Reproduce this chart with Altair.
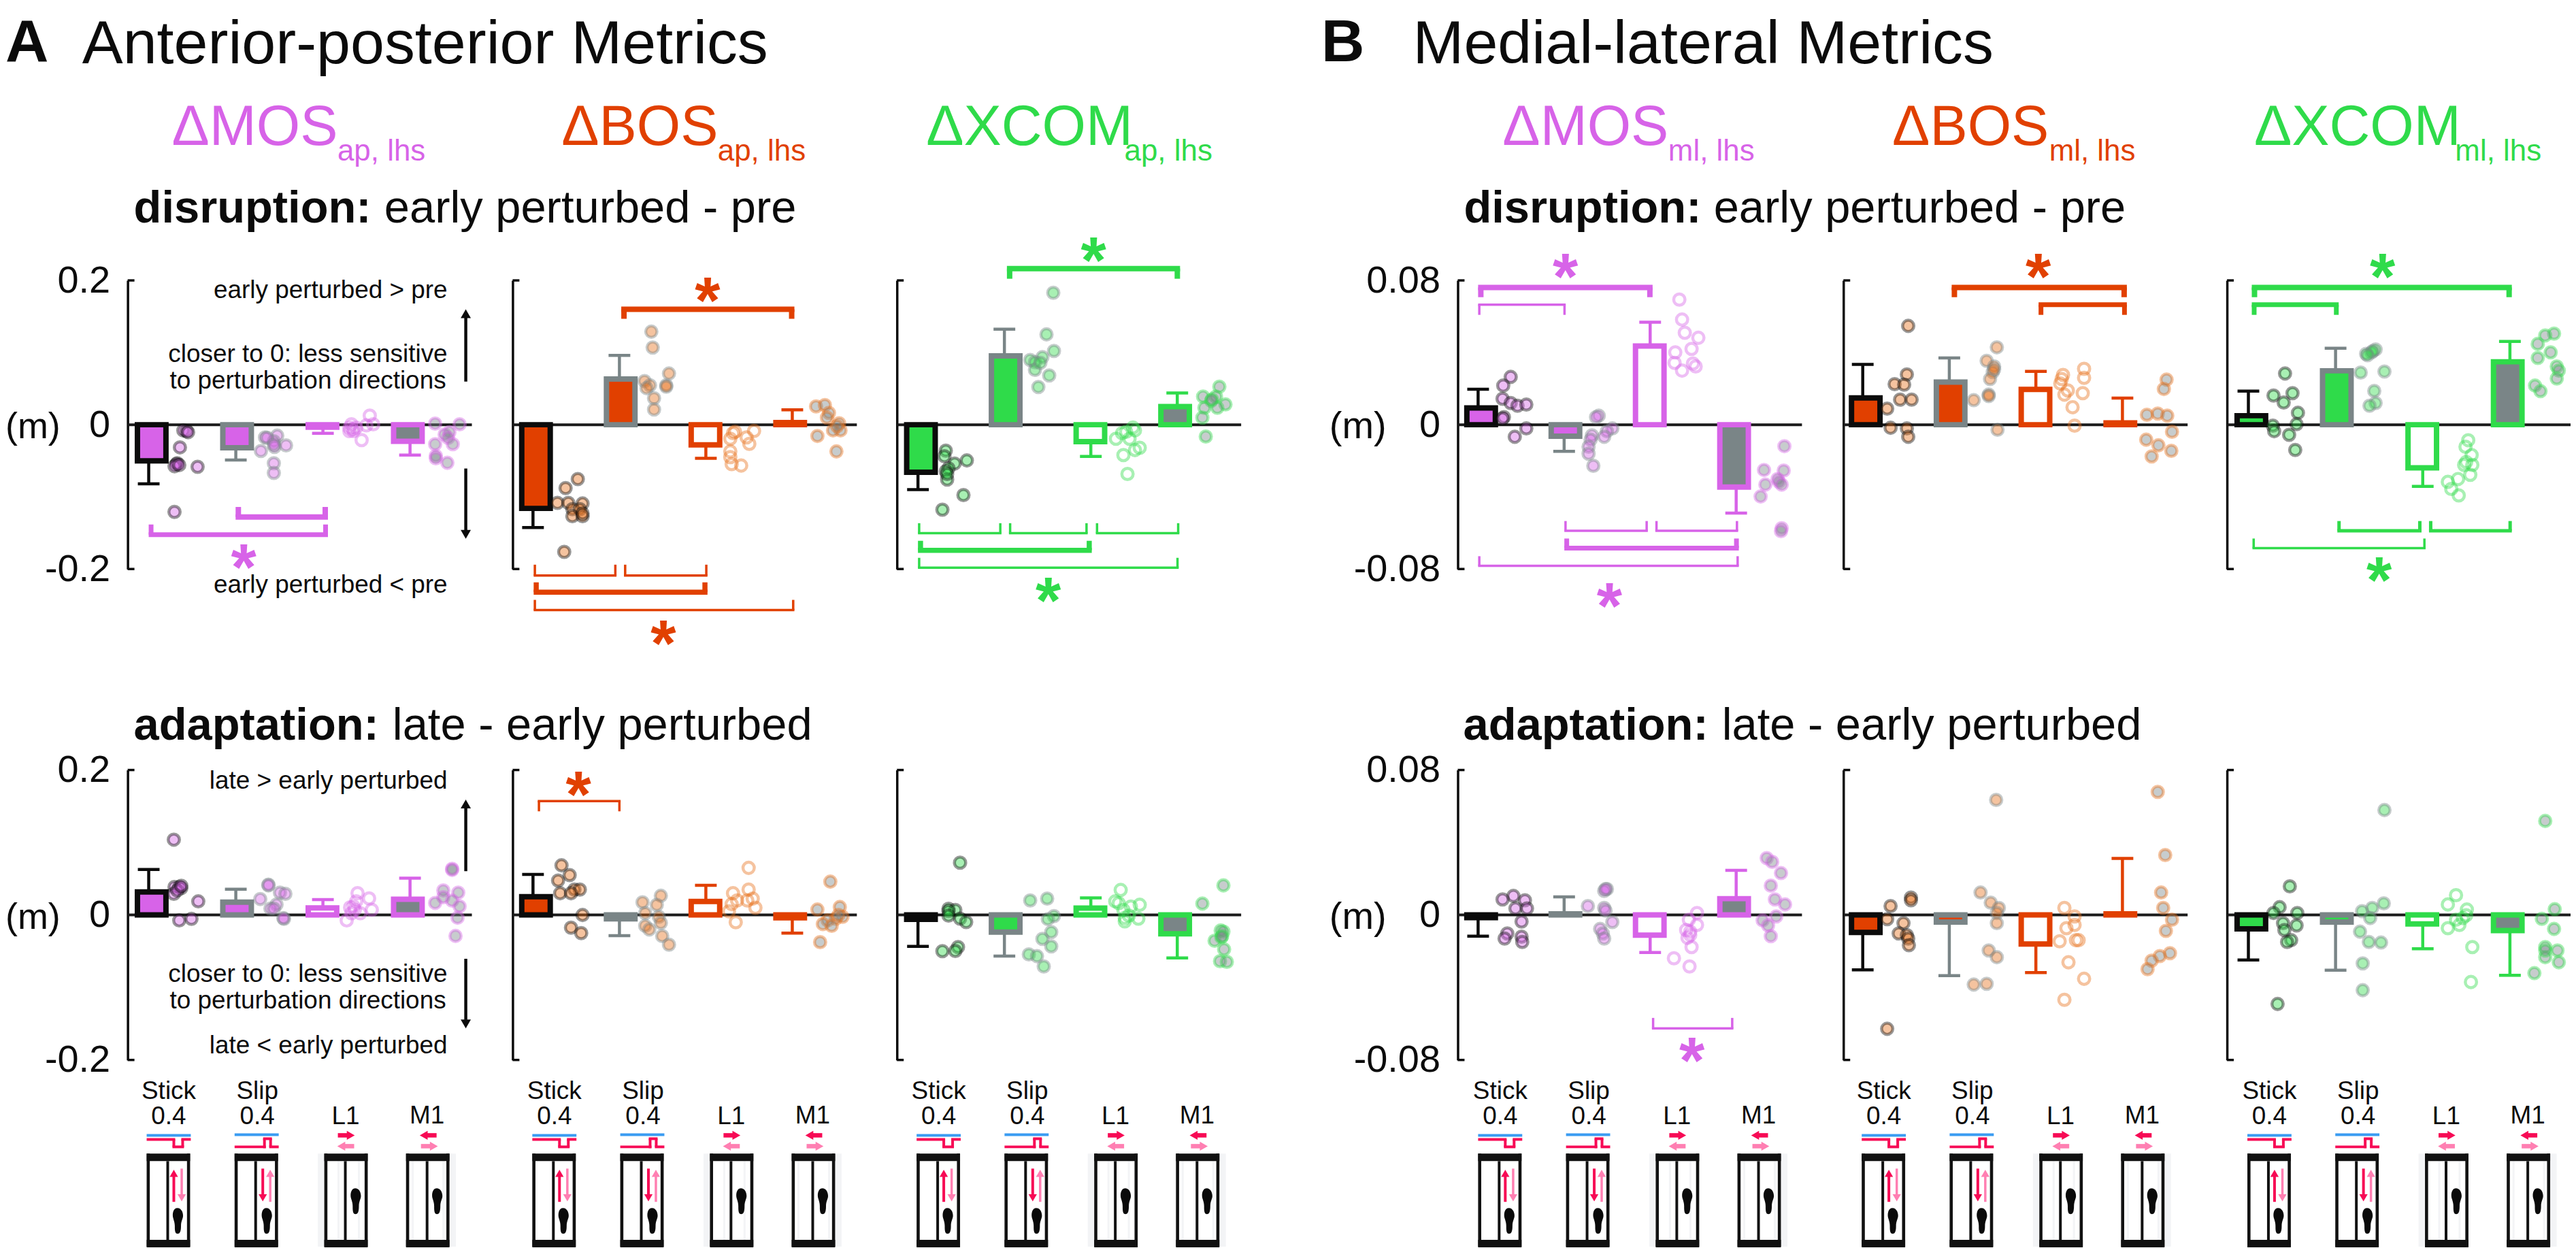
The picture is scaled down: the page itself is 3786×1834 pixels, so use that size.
import altair as alt
import pandas as pd

FONT = "Liberation Sans"
PINK, ORANGE, GREEN = "#D763E8", "#E14000", "#2FDB4A"
GRAY, BLACK = "#7A8587", "#0B0B0B"
RED, ROSE, BLUE = "#F70A55", "#FF7FB2", "#3A9CF2"
DOT_ORANGE = "#E8701A"
M = 8  # page margin: reference pixel = chart pixel + 8
W, H = 3778, 1826
GROUPS = ["Stick", "Slip", "L1", "M1"]

# each series: (horizontal jitter, measured value)
ap_dis_mos = dict(
    means=[-.050, -.032, -.0035, -.023], errs=[-.082, -.049, -.012, -.042],
    Stick=[(51,-.008),(56,-.009),(58,-.0104),(46,-.0314),(42,-.0534),(41,-.0546),(38,-.0575),(45,-.0559),(72,-.0584),(38,-.1209)],
    Slip=[(43,-.0176),(61,-.0151),(56,-.0229),(57,-.0308),(74,-.0286),(37,-.0364),(56,-.0534),(56,-.0669),(46,-.018),(56,-.0276)],
    L1=[(39,-.0041),(44,-.0057),(42,.0006),(49,-.0041),(69,.0126),(74,.0006),(64,-.0009),(57,-.0214),(39,-.0088),(45,-.0088)],
    M1=[(37,.0016),(73,.0006),(51,-.0135),(58,-.0104),(56,-.0182),(63,-.027),(37,-.027),(38,-.0433),(38,-.0465),(55,-.0528)])
ap_dis_bos = dict(
    means=[-.116, .0634, -.028, .003], errs=[-.1425, .096, -.0465, .0207],
    Stick=[(66,-.0753),(48,-.0878),(36,-.1084),(52,-.1084),(73,-.1092),(58,-.117),(69,-.117),(58,-.1268),(73,-.1268),(46,-.1763),(73,-.1229)],
    Slip=[(47,.129),(49,.107),(73,.071),(37,.0605),(45,.0546),(40,.0507),(69,.0546),(69,.0527),(51,.0367),(51,.0211)],
    L1=[(43,-.0098),(40,-.0117),(36,-.0195),(71,-.0086),(60,-.0176),(64,-.0265),(36,-.037),(36,-.0449),(38,-.0546),(52,-.0566)],
    M1=[(35,.0254),(48,.0273),(54,.0164),(51,.0098),(69,.002),(71,-.0078),(60,-.0078),(66,-.002),(37,-.0156),(65,-.037)])
ap_dis_xcom = dict(
    means=[-.066, .0954, -.0235, .0251], errs=[-.09, .1324, -.044, .044],
    Stick=[(41,-.0359),(39,-.0437),(72,-.0495),(54,-.0538),(45,-.0605),(41,-.0644),(43,-.0761),(67,-.0975),(36,-.1178),(43,-.0683)],
    Slip=[(72,.1829),(62,.1252),(73,.1022),(38,.0897),(56,.0936),(45,.0866),(45,.0761),(66,.0683),(50,.0523),(53,.0858)],
    L1=[(52,-.0098),(62,-.0039),(46,-.0117),(37,-.0195),(57,-.0195),(72,-.032),(65,-.0351),(48,-.0421),(54,-.0683),(65,-.0078)],
    M1=[(62,.0527),(38,.039),(57,.039),(50,.0332),(71,.0281),(40,.0234),(59,.0234),(37,.0098),(42,-.0164),(51,.0351)])
ap_ada_mos = dict(
    means=[.0317, .0176, .0097, .0216], errs=[.0628, .0355, .0213, .0508],
    Stick=[(37,.1039),(38,.0386),(45,.0386),(48,.0371),(37,.0292),(42,.0339),(73,.0188),(45,-.0075),(63,-.0053),(48,.0402)],
    Slip=[(48,.0418),(65,.0308),(73,.0292),(36,.022),(60,.0144),(51,.0088),(56,.0088),(71,-.0053),(70,-.0044),(48,.0408)],
    L1=[(51,.0301),(68,.0229),(72,.0072),(49,.0188),(40,.0104),(45,.0119),(55,.0025),(35,-.0075),(47,.0072),(42,.0025)],
    M1=[(62,.0637),(62,.0622),(49,.0339),(49,.0245),(71,.0308),(62,.0198),(37,.0166),(73,.0119),(70,-.0038),(67,-.0289)])
ap_ada_bos = dict(
    means=[.0253, -.0053, .0187, -.0038], errs=[.056, -.0285, .041, -.025],
    Stick=[(42,.0685),(54,.055),(37,.0475),(61,.035),(69,.035),(40,.03),(56,.03),(73,0),(56,-.0175),(71,-.025)],
    Slip=[(61,.0265),(34,.0175),(55,.014),(38,.0025),(58,-.0025),(38,-.015),(61,-.011),(44,-.02),(63,-.029),(73,-.041)],
    L1=[(63,.065),(40,.03),(63,.035),(46,.02),(69,.0225),(73,.01),(38,.015),(34,.005),(44,-.01),(61,.02)],
    M1=[(56,.046),(70,.011),(37,.0075),(74,-.0025),(64,-.005),(52,-.0075),(45,-.0125),(58,-.015),(41,-.0375),(68,0)])
ap_ada_xcom = dict(
    means=[-.006, -.0236, .0094, -.026], errs=[-.0433, -.0568, .0235, -.0593],
    Stick=[(62,.0722),(45,.0085),(55,.0069),(45,.0053),(45,-.0009),(62,-.005),(71,-.0097),(59,-.0443),(55,-.0496),(36,-.0499)],
    Slip=[(38,.0201),(63,.0226),(73,-.0016),(64,-.0057),(69,-.0236),(56,-.033),(69,-.0433),(36,-.0543),(48,-.0568),(58,-.071)],
    L1=[(44,.0345),(36,.0188),(41,.0163),(59,.0116),(72,.0141),(48,.0069),(50,-.0041),(70,-.005),(50,-.0088),(56,-.0009)],
    M1=[(68,.0408),(37,.0157),(64,-.0214),(68,-.0229),(55,-.0355),(65,-.0308),(69,-.0474),(63,-.0637),(73,-.0647),(66,-.0292)])
ml_dis_mos = dict(
    means=[.0093, -.0064, .0436, -.0346], errs=[.0197, -.0148, .0568, -.049],
    Stick=[(48,.0265),(37,.0217),(36,.0144),(48,.012),(58,.0105),(71,.0112),(38,.0042),(36,.0034),(71,-.002),(54,-.0067)],
    Slip=[(51,.005),(47,.0042),(71,-.002),(63,-.0036),(41,-.0059),(39,-.0083),(59,-.0067),(36,-.0122),(36,-.0161),(43,-.0228)],
    L1=[(43,.0694),(47,.0583),(51,.051),(71,.0482),(37,.0401),(61,.042),(36,.0343),(63,.0339),(67,.0323),(47,.03)],
    M1=[(71,-.0119),(41,-.0251),(70,-.0254),(61,-.0301),(63,-.0317),(43,-.0332),(67,-.0332),(36,-.0398),(67,-.0574),(66,-.059)])
ml_dis_bos = dict(
    means=[.0149, .0236, .0196, .001], errs=[.0334, .037, .0296, .0148],
    Stick=[(67,.0548),(65,.0279),(47,.0225),(61,.0222),(55,.0139),(72,.0139),(36,.0089),(41,-.0017),(65,-.002),(67,-.0067)],
    Slip=[(70,.0429),(55,.0354),(66,.0323),(64,.0292),(60,.0253),(58,.0167),(36,.0136),(71,-.0028),(58,.0159),(66,.0307)],
    L1=[(71,.031),(71,.026),(40,.0276),(36,.0229),(47,.019),(42,.0167),(69,.0175),(54,.0097),(57,-.0005),(38,.0253)],
    M1=[(65,.025),(61,.0198),(36,.0055),(52,.0062),(66,.005),(73,-.0039),(35,-.0083),(53,-.0114),(72,-.0145),(43,-.0176)])
ml_dis_xcom = dict(
    means=[.005, .0299, -.0239, .0349], errs=[.0186, .0424, -.0342, .0462],
    Stick=[(54,.0284),(37,.0162),(65,.0175),(52,.0123),(73,.0066),(71,.0003),(36,-.0005),(38,-.0036),(60,-.0056),(69,-.014)],
    Slip=[(59,.0417),(53,.0401),(45,.0393),(37,.0289),(72,.0295),(57,.0187),(59,.012),(50,.0105),(55,.0409),(47,.0385)],
    L1=[(67,-.0086),(63,-.0122),(72,-.0168),(64,-.0207),(73,-.0223),(61,-.0223),(70,-.0278),(52,-.0301),(37,-.0317),(42,-.0356),(53,-.0392)],
    M1=[(65,.0505),(52,.0495),(41,.0448),(60,.0401),(41,.037),(69,.0323),(72,.03),(69,.0256),(37,.0217),(45,.0186)])
ml_ada_mos = dict(
    means=[-.0015, .0006, -.0111, .009], errs=[-.0117, .01, -.0207, .0246],
    Stick=[(52,.0105),(36,.0086),(69,.0081),(55,.0036),(72,.0036),(64,-.0036),(43,-.0102),(39,-.013),(64,-.012),(65,-.0149)],
    Slip=[(63,.0143),(59,.0133),(35,.0049),(59,.0039),(71,-.0039),(53,-.0077),(57,-.0102),(59,-.013),(61,.0143),(61,.0024)],
    L1=[(69,.0011),(57,-.0026),(69,-.0055),(53,-.0083),(59,-.0111),(61,-.0177),(35,-.0239),(58,-.0284),(59,-.0092),(55,-.0126)],
    M1=[(45,.0314),(53,.0293),(66,.0231),(51,.0162),(57,.0086),(72,.0058),(59,-.0008),(39,-.003),(47,-.0058),(51,-.0117)])
ml_ada_bos = dict(
    means=[-.0096, -.0039, -.016, .0006], errs=[-.0303, -.0335, -.0318, .0312],
    Stick=[(71,.0096),(71,.0081),(41,.0049),(36,-.0023),(60,-.0045),(53,-.0102),(65,-.0111),(67,-.013),(68,-.0167),(36,-.0628)],
    Slip=[(69,.0635),(46,.0124),(61,.0068),(73,.0039),(70,.0011),(70,-.0045),(58,-.0196),(70,-.0233),(36,-.0384),(55,-.038)],
    L1=[(42,.0039),(57,-.0008),(57,-.0055),(45,-.0073),(63,-.0139),(35,-.0145),(59,-.0139),(48,-.0261),(71,-.0352),(42,-.0468)],
    M1=[(52,.0679),(63,.0331),(57,.0124),(60,.0039),(73,-.0026),(64,-.0088),(70,-.0211),(55,-.0227),(43,-.0252),(37,-.0299)])
ml_ada_xcom = dict(
    means=[-.0077, -.0039, -.0049, -.0086], errs=[-.0248, -.0305, -.0186, -.0333],
    Stick=[(61,.0158),(46,.0043),(72,.0011),(37,.0011),(51,-.0045),(71,-.0058),(53,-.0083),(63,-.0139),(57,-.0149),(43,-.0491)],
    Slip=[(72,.0579),(71,.0064),(54,.0039),(39,.0021),(51,-.0017),(36,-.0092),(49,-.0149),(67,-.0152),(40,-.0267),(40,-.0415)],
    L1=[(49,.0109),(37,.0058),(65,.003),(59,-.0017),(49,-.0026),(37,-.0073),(54,-.0055),(73,-.0177),(71,-.037),(64,-.0002)],
    M1=[(52,.0519),(66,.0032),(47,-.0021),(65,-.0077),(52,-.0177),(70,-.0196),(52,-.0233),(72,-.0261),(36,-.0321),(52,-.0196)])

# significance brackets: (from, to, value of the bar, value of the tips, thickness)
br_ap_dis_mos = [(128,264,-.128,-.114,8),(0,264,-.1525,-.1383,7)]
br_ap_dis_bos = [(130,385,.160,.1468,8),(1,123,-.209,-.194,3.5),(134,257,-.209,-.194,3.5),
                 (1,257,-.2321,-.2185,7.5),(1,385,-.2569,-.2428,3.5)]
br_ap_dis_xcom = [(131,386,.2164,.2023,8),(0,123,-.1502,-.1365,3.5),(134,250,-.1502,-.1365,3.5),
                  (262,385,-.1502,-.1365,3.5),(0,256,-.1741,-.1609,7.5),(0,384,-.1982,-.1845,3.5)]
br_ap_ada_bos = [(7,129,.1571,.1430,3.5)]
br_ml_dis_mos = [(0,257,.0761,.0707,8),(0,129,.0665,.0609,3.5),(127,250,-.0588,-.0534,3.5),
                 (261,383,-.0588,-.0534,3.5),(127,384,-.0684,-.0631,7),(0,384,-.0782,-.0729,3.5)]
br_ml_dis_bos = [(131,389,.0761,.0707,8),(259,389,.0665,.0609,7)]
br_ml_dis_xcom = [(5,388,.0761,.0707,8),(5,133,.0665,.0609,7),(131,255,-.0588,-.0534,5),
                  (266,388,-.0588,-.0534,5),(6,261,-.0684,-.0631,3.5)]
br_ml_ada_mos = [(256,376,-.0626,-.0568,3.5)]

ROW1 = (836, 411)
ROW2 = (1559, 1132)
AP = .2
ML = .08
PANELS = [
    (ap_dis_mos, br_ap_dis_mos, 188, 219, 128.3, ROW1, AP, PINK, True),
    (ap_dis_bos, br_ap_dis_bos, 755, 785, 127.3, ROW1, AP, ORANGE, False),
    (ap_dis_xcom, br_ap_dis_xcom, 1321, 1352, 127.3, ROW1, AP, GREEN, False),
    (ap_ada_mos, [], 188, 219, 128.3, ROW2, AP, PINK, True),
    (ap_ada_bos, br_ap_ada_bos, 755, 785, 127.3, ROW2, AP, ORANGE, False),
    (ap_ada_xcom, [], 1321, 1352, 127.3, ROW2, AP, GREEN, False),
    (ml_dis_mos, br_ml_dis_mos, 2147, 2177, 126.7, ROW1, ML, PINK, True),
    (ml_dis_bos, br_ml_dis_bos, 2715, 2743.5, 127.5, ROW1, ML, ORANGE, False),
    (ml_dis_xcom, br_ml_dis_xcom, 3280, 3311.5, 128.4, ROW1, ML, GREEN, False),
    (ml_ada_mos, br_ml_ada_mos, 2147, 2177, 126.7, ROW2, ML, PINK, True),
    (ml_ada_bos, [], 2715, 2743.5, 127.5, ROW2, ML, ORANGE, False),
    (ml_ada_xcom, [], 3280, 3311.5, 128.4, ROW2, ML, GREEN, False),
]

layers = []


def panel_layers(series, brackets, x0, first, step, row, dom, color, labels):
    sx = alt.Scale(domain=[x0 - first, x0 - first + 507], range=[x0 - M, x0 + 507 - M], nice=False, zero=False)
    sy = alt.Scale(domain=[-dom, dom], range=[row[0] - M, row[1] - M], nice=False, zero=False)
    X = lambda f: alt.X(f, type="quantitative", scale=sx, axis=None)
    dec = 1 if dom == AP else 2
    expr = f"datum.value==0?'0':(datum.value<0?'-':'')+format(abs(datum.value),'.{dec}f')"
    yaxis = alt.Axis(values=[-dom, 0, dom], title=None, grid=False, ticks=False, domain=True,
                     domainColor=BLACK, domainWidth=3.5, labels=labels, labelExpr=expr,
                     labelFont=FONT, labelFontSize=56, labelColor=BLACK, labelPadding=26,
                     labelOverlap=False, labelFlush=False, orient="left", offset=-(x0 - M))
    YA = alt.Y("y:Q", scale=sy, axis=yaxis)
    Y = alt.Y("y:Q", scale=sy, axis=None)
    dot_color = DOT_ORANGE if color == ORANGE else color
    styles = [(color, BLACK), (color, GRAY), ("white", color), (GRAY, color)]
    dot_styles = [(dot_color, BLACK), (dot_color, GRAY), ("transparent", dot_color), (GRAY, dot_color)]

    zero = pd.DataFrame({"x": [x0 - first], "x2": [x0 - first + 507], "y": [0.0]})
    out = [alt.Chart(zero).mark_rule(strokeWidth=4, color="#1A1A1A").encode(x=X("x"), x2="x2", y=YA)]

    centers = [step * i for i in range(4)]
    bars = pd.DataFrame({"x": centers, "y": series["means"], "y2": [0.0] * 4,
                         "fill": [s[0] for s in styles], "stroke": [s[1] for s in styles]})
    out.append(alt.Chart(bars).mark_bar(size=42, strokeWidth=8, orient="vertical").encode(
        x=X("x"), y=Y, y2="y2",
        fill=alt.Fill("fill:N", scale=None), stroke=alt.Stroke("stroke:N", scale=None)))

    err = pd.DataFrame({"x": centers, "y": series["errs"], "y2": series["means"],
                        "x1": [c - 16 for c in centers], "x2": [c + 16 for c in centers],
                        "stroke": [s[1] for s in styles]})
    out.append(alt.Chart(err).mark_rule(strokeWidth=4.5).encode(
        x=X("x"), y=Y, y2="y2", color=alt.Color("stroke:N", scale=None)))
    out.append(alt.Chart(err).mark_rule(strokeWidth=4.5).encode(
        x=X("x1"), x2="x2", y=Y, color=alt.Color("stroke:N", scale=None)))

    rows = []
    for i, g in enumerate(GROUPS):
        for jit, val in series[g]:
            rows.append({"x": centers[i] + jit, "y": val, "fill": dot_styles[i][0], "stroke": dot_styles[i][1]})
    out.append(alt.Chart(pd.DataFrame(rows)).mark_circle(size=276, strokeWidth=4.5, fillOpacity=.42, strokeOpacity=.42).encode(
        x=X("x"), y=Y, fill=alt.Fill("fill:N", scale=None), stroke=alt.Stroke("stroke:N", scale=None)))

    # small inward feet of the axis bracket
    lo = x0 - first
    segs = [(lo, lo + 10, dom, dom, 3.5, BLACK), (lo, lo + 10, -dom, -dom, 3.5, BLACK)]
    for a, b, v, tip, t in brackets:
        segs.append((a, b, v, v, t, color))
        segs.append((a + t / 2, a + t / 2, v, tip, t, color))
        segs.append((b - t / 2, b - t / 2, v, tip, t, color))
    sd = pd.DataFrame(segs, columns=["x", "x2", "y", "y2", "w", "c"])
    out.append(alt.Chart(sd).mark_rule().encode(
        x=X("x"), x2="x2", y=Y, y2="y2",
        strokeWidth=alt.StrokeWidth("w:Q", scale=None), color=alt.Color("c:N", scale=None)))
    return out


for p in PANELS:
    layers += panel_layers(*p)

# ---- text ----
T_LEFT = [
    ("A", 8, 88, 88, BLACK, "bold"), ("Anterior-posterior Metrics", 121, 91, 90, BLACK, "normal"),
    ("B", 1946, 88, 88, BLACK, "bold"), ("Medial-lateral Metrics", 2081, 91, 90, BLACK, "normal"),
    ("disruption:", 197, 326, 67, BLACK, "bold"), ("early perturbed - pre", 566, 326, 67, BLACK, "normal"),
    ("disruption:", 2156, 326, 67, BLACK, "bold"), ("early perturbed - pre", 2524, 326, 67, BLACK, "normal"),
    ("adaptation:", 197, 1087, 67, BLACK, "bold"), ("late - early perturbed", 578, 1087, 67, BLACK, "normal"),
    ("adaptation:", 2155, 1087, 67, BLACK, "bold"), ("late - early perturbed", 2536, 1087, 67, BLACK, "normal"),
    ("(m)", 8, 643, 54, BLACK, "normal"), ("(m)", 8, 1366, 54, BLACK, "normal"),
    ("(m)", 1958, 643, 56, BLACK, "normal"), ("(m)", 1958, 1366, 56, BLACK, "normal"),
]
for name, sub, c, x, xs in [
    ("ΔMOS", "ap, lhs", PINK, 253, 497), ("ΔBOS", "ap, lhs", ORANGE, 827, 1057), ("ΔXCOM", "ap, lhs", GREEN, 1364, 1656),
    ("ΔMOS", "ml, lhs", PINK, 2213, 2457), ("ΔBOS", "ml, lhs", ORANGE, 2787, 3018), ("ΔXCOM", "ml, lhs", GREEN, 3320, 3616)]:
    T_LEFT.append((name, x, 211, 83, c, "normal"))
    T_LEFT.append((sub, xs, 235, 44, c, "normal"))

T_RIGHT = [
    ("early perturbed > pre", 659, 437, 37), ("closer to 0: less sensitive", 659, 531, 37),
    ("to perturbation directions", 657, 570, 37), ("early perturbed < pre", 659, 871, 37),
    ("late > early perturbed", 659, 1160, 37), ("closer to 0: less sensitive", 659, 1444, 37),
    ("to perturbation directions", 657, 1483, 37), ("late < early perturbed", 659, 1549, 37),
]
STARS = [(359, 817, PINK), (1042, 424, ORANGE), (977, 929, ORANGE), (852, 1152, ORANGE),
         (1610.5, 365, GREEN), (1544, 866, GREEN), (2305.5, 389, PINK), (2370.5, 874, PINK),
         (2492, 1543, PINK), (3002, 389, ORANGE), (3509, 389, GREEN), (3504, 836, GREEN)]

# ---- icons under each column ----
ICON_LEFT = [216, 784, 1350, 2177, 2742, 3310]
STEP = [0, 129.5, 261.6, 382]
T_CENTER = []
segs, heads, feet = [], [], []
FOOT = ("M-.02,-.5C.12,-.5 .2,-.35 .2,-.2C.2,-.08 .12,0 .12,.2C.12,.35 .1,.5 -.01,.5"
        "C-.12,.5 -.12,.35 -.12,.2C-.12,0 -.2,-.08 -.2,-.22C-.2,-.37 -.14,-.5 -.02,-.5Z")
FAINT = "#F3F4F6"


def seg(x, y, x2, y2, w, c):
    segs.append((x - M, y - M, x2 - M, y2 - M, w, c))


def head(x, y, shape, size, c):
    heads.append((x - M, y - M, shape, size, c))


for L in ICON_LEFT:
    g = [L + s for s in STEP]
    for txt, cx, base in [("Stick", L + 32.5, 1616), ("0.4", L + 32.5, 1654), ("Slip", L + 163, 1616), ("0.4", L + 163, 1654),
                          ("L1", L + 293, 1654), ("M1", L + 413, 1653)]:
        T_CENTER.append((txt, cx, base))
    # belt speed steps
    seg(L, 1670, L + 65, 1670, 4, BLUE)
    for a in [(L, 1676, L + 42, 1676), (L + 40, 1676, L + 40, 1687), (L + 38, 1687, L + 55, 1687),
              (L + 53, 1687, L + 53, 1676), (L + 51, 1676, L + 65, 1676)]:
        seg(*a, 4, RED)
    s = g[1]
    seg(s, 1669, s + 65, 1669, 4, BLUE)
    for a in [(s, 1687, s + 46, 1687), (s + 44, 1689, s + 44, 1675), (s + 42, 1675, s + 55, 1675),
              (s + 53, 1675, s + 53, 1687), (s + 51, 1687, s + 65, 1687)]:
        seg(*a, 4, RED)
    # lateral arrows
    c = g[2] + 32
    seg(c - 12, 1670, c + 4, 1670, 6.5, RED); head(c + 7, 1670, "triangle-right", 180, RED)
    seg(c + 12, 1686, c - 4, 1686, 6.5, ROSE); head(c - 7, 1686, "triangle-left", 180, ROSE)
    c = g[3] + 32
    seg(c + 13, 1670, c - 3, 1670, 6.5, RED); head(c - 6, 1670, "triangle-left", 180, RED)
    seg(c - 10, 1686, c + 6, 1686, 6.5, ROSE); head(c + 9, 1686, "triangle-right", 180, ROSE)
    # faint background of the two side-stepping treadmills
    seg(g[2] - 5, 1697, g[2] - 5, 1834, 9, FAINT); seg(g[2] + 21, 1708, g[2] + 21, 1824, 3, FAINT); seg(g[2] + 51, 1708, g[2] + 51, 1824, 3, FAINT)
    seg(g[3] + 69, 1697, g[3] + 69, 1834, 9, FAINT); seg(g[3] + 10, 1708, g[3] + 10, 1824, 3, FAINT); seg(g[3] + 55, 1708, g[3] + 55, 1824, 3, FAINT)
    # treadmills
    for x in g:
        seg(x, 1702.5, x + 64, 1702.5, 11, "#111111")
        seg(x, 1829.5, x + 64, 1829.5, 11, "#111111")
        seg(x + 2.3, 1697, x + 2.3, 1834, 4.6, "#111111")
        seg(x + 61.7, 1697, x + 61.7, 1834, 4.6, "#111111")
        seg(x + 31, 1708, x + 31, 1824, 4, "#111111")
    x = g[0]
    seg(x + 40, 1768, x + 40, 1730, 4, RED); head(x + 40, 1726, "triangle-up", 150, RED)
    seg(x + 51.6, 1719, x + 51.6, 1757, 3.5, ROSE); head(x + 51.6, 1762, "triangle-down", 150, ROSE)
    x = g[1]
    seg(x + 41.5, 1719, x + 41.5, 1757, 4, RED); head(x + 41.5, 1762, "triangle-down", 150, RED)
    seg(x + 52.5, 1768, x + 52.5, 1730, 3.5, ROSE); head(x + 52.5, 1726, "triangle-up", 150, ROSE)
    feet += [(g[0] + 46 - M, 1796 - M), (g[1] + 47.5 - M, 1796 - M), (g[2] + 46.4 - M, 1767 - M), (g[3] + 46 - M, 1767 - M)]

# direction arrows next to the first column
for y1, y2 in [(560, 466), (688, 779), (1281, 1188), (1410, 1500)]:
    seg(686, y1, 686, y2, 4.5, BLACK)
for y, s in [(460, "triangle-up"), (785, "triangle-down"), (1182, "triangle-up"), (1506, "triangle-down")]:
    head(686, y, s, 225, BLACK)

PX = lambda f: alt.X(f, type="quantitative", scale=None, axis=None)
PY = lambda f: alt.Y(f, type="quantitative", scale=None, axis=None)

sd = pd.DataFrame(segs, columns=["x", "y", "x2", "y2", "w", "c"])
layers.append(alt.Chart(sd).mark_rule().encode(
    x=PX("x"), y=PY("y"), x2="x2", y2="y2",
    strokeWidth=alt.StrokeWidth("w:Q", scale=None), color=alt.Color("c:N", scale=None)))
hd = pd.DataFrame(heads, columns=["x", "y", "s", "z", "c"])
layers.append(alt.Chart(hd).mark_point(filled=True, opacity=1, strokeWidth=0).encode(
    x=PX("x"), y=PY("y"), shape=alt.Shape("s:N", scale=None),
    size=alt.Size("z:Q", scale=None), color=alt.Color("c:N", scale=None)))
ft = pd.DataFrame(feet, columns=["x", "y"])
layers.append(alt.Chart(ft).mark_point(filled=True, opacity=1, strokeWidth=0, shape=FOOT, size=5776, color="#0A0A0A").encode(
    x=PX("x"), y=PY("y")))


def text_layer(rows, align, weight):
    df = pd.DataFrame(rows, columns=["t", "x", "y", "s", "c"])
    df["x"] -= M
    df["y"] -= M
    return alt.Chart(df).mark_text(font=FONT, align=align, baseline="alphabetic", fontWeight=weight).encode(
        x=PX("x"), y=PY("y"), text="t:N",
        size=alt.Size("s:Q", scale=None), color=alt.Color("c:N", scale=None))


layers.append(text_layer([r[:5] for r in T_LEFT if r[5] == "normal"], "left", "normal"))
layers.append(text_layer([r[:5] for r in T_LEFT if r[5] == "bold"], "left", "bold"))
layers.append(text_layer([(t, x, y, s, BLACK) for t, x, y, s in T_RIGHT], "right", "normal"))
layers.append(text_layer([(t, x, y, 37, BLACK) for t, x, y in T_CENTER], "center", "normal"))
layers.append(text_layer([("*", x, y + 50, 96, c) for x, y, c in STARS], "center", "bold"))

chart = alt.layer(*layers).resolve_scale(x="independent", y="independent").resolve_axis(
    x="independent", y="independent"
).properties(
    width=W, height=H, padding=0, autosize=alt.AutoSizeParams(type="none"), background="white"
).configure_view(stroke=None)

chart.save("out.html", embed_options={"renderer": "svg", "actions": False})
